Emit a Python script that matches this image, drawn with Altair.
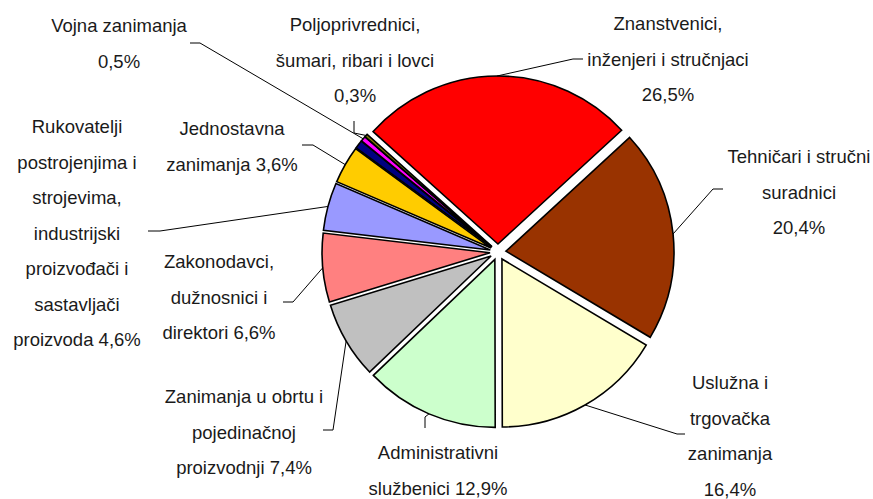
import math
import altair as alt
import pandas as pd

# Occupational structure, share of employed persons (%)
categories = [
    "Znanstvenici, inženjeri i stručnjaci",
    "Tehničari i stručni suradnici",
    "Uslužna i trgovačka zanimanja",
    "Administrativni službenici",
    "Zanimanja u obrtu i pojedinačnoj proizvodnji",
    "Zakonodavci, dužnosnici i direktori",
    "Rukovatelji postrojenjima i strojevima, industrijski proizvođači i sastavljači proizvoda",
    "Jednostavna zanimanja",
    "Nepoznato",
    "Vojna zanimanja",
    "Poljoprivrednici, šumari, ribari i lovci",
]
shares = [26.5, 20.4, 16.4, 12.9, 7.4, 6.6, 4.6, 3.6, 0.8, 0.5, 0.3]

# Label text, line by line; {v} is replaced by the formatted share
label_lines = [
    ["Znanstvenici,", "inženjeri i stručnjaci", "{v}"],
    ["Tehničari i stručni", "suradnici", "{v}"],
    ["Uslužna i", "trgovačka", "zanimanja", "{v}"],
    ["Administrativni", "službenici {v}"],
    ["Zanimanja u obrtu i", "pojedinačnoj", "proizvodnji {v}"],
    ["Zakonodavci,", "dužnosnici i", "direktori {v}"],
    ["Rukovatelji", "postrojenjima i", "strojevima,", "industrijski",
     "proizvođači i", "sastavljači", "proizvoda {v}"],
    ["Jednostavna", "zanimanja {v}"],
    [],
    ["Vojna zanimanja", "{v}"],
    ["Poljoprivrednici,", "šumari, ribari i lovci", "{v}"],
]

# Slice fill colours
colors = ["#FF0000", "#993300", "#FFFFCC", "#CCFFCC", "#C0C0C0", "#FF8080",
          "#9999FF", "#FFCC00", "#000080", "#FF00FF", "#808000"]

# Label placement: centre of the first label line, leader elbow, leader end (pixels)
label_pos = [(668, 24), (799, 157), (730, 383), (438, 453), (244, 397), (219, 262),
             (77, 127), (232, 129), (None, None), (119, 26), (355, 25)]
leader_elbow = [(573, 59), (713, 189), (677, 434), (425, 417), (333, 430), (293, 302),
                (160, 231), (313, 145), (None, None), (200, 43), (354, 133)]
leader_end = [(583, 59), (723, 189), (685, 434), (425, 428), (323, 430), (283, 302),
              (148, 231), (302, 145), (None, None), (190, 43), (354, 121)]

CX, CY = 498, 252          # pie centre
RADIUS = 168               # slice radius
EXPLODE = 8                # radial offset of every slice
START = math.radians(-48)  # angle where the first slice begins (clockwise from 12 o'clock)
FONT = "Liberation Sans Narrow, Arial Narrow, Liberation Sans, sans-serif"


def fmt(v):
    return f"{v:.1f}".replace(".", ",") + "%"


df = pd.DataFrame({
    "category": categories,
    "value": shares,
    "order": list(range(len(categories))),
    "color": colors,
    "label": ["\n".join(l.replace("{v}", fmt(v)) for l in lines)
              for lines, v in zip(label_lines, shares)],
    "lx": [p[0] for p in label_pos], "ly": [p[1] for p in label_pos],
    "bx": [p[0] for p in leader_elbow], "by": [p[1] for p in leader_elbow],
    "ex": [p[0] for p in leader_end], "ey": [p[1] for p in leader_end],
})

arcs = alt.Chart().mark_arc(radius=RADIUS, stroke="black", strokeWidth=1.6).encode(
    theta=alt.Theta("t0:Q", scale=None, stack=None),
    theta2="t1:Q",
    x=alt.X("px:Q", scale=None, axis=None),
    y=alt.Y("py:Q", scale=None, axis=None),
    color=alt.Color("color:N", scale=None, legend=None),
)

labelled = "datum.label != ''"

leader_a = alt.Chart().mark_rule(color="black", strokeWidth=1).encode(
    x=alt.X("ax:Q", scale=None, axis=None),
    y=alt.Y("ay:Q", scale=None, axis=None),
    x2="bx:Q",
    y2="by:Q",
).transform_filter(labelled)

leader_b = alt.Chart().mark_rule(color="black", strokeWidth=1).encode(
    x=alt.X("bx:Q", scale=None, axis=None),
    y=alt.Y("by:Q", scale=None, axis=None),
    x2="ex:Q",
    y2="ey:Q",
).transform_filter(labelled)

labels = alt.Chart().mark_text(
    align="center", baseline="middle", lineBreak="\n", lineHeight=35.5,
    font=FONT, fontSize=18.5, color="#1a1a1a",
).encode(
    x=alt.X("lx:Q", scale=None, axis=None),
    y=alt.Y("ly:Q", scale=None, axis=None),
    text="label:N",
).transform_filter(labelled)

chart = alt.layer(arcs, leader_a, leader_b, labels, data=df).transform_window(
    cum="sum(value)", sort=[alt.SortField("order")], frame=[None, 0]
).transform_joinaggregate(
    total="sum(value)"
).transform_calculate(
    t0=f"{START} + 2 * PI * (datum.cum - datum.value) / datum.total",
    t1=f"{START} + 2 * PI * datum.cum / datum.total",
).transform_calculate(
    mid="(datum.t0 + datum.t1) / 2",
).transform_calculate(
    px=f"{CX} + {EXPLODE} * sin(datum.mid)",
    py=f"{CY} - {EXPLODE} * cos(datum.mid)",
    ax=f"{CX} + {RADIUS + EXPLODE} * sin(datum.mid)",
    ay=f"{CY} - {RADIUS + EXPLODE} * cos(datum.mid)",
).properties(
    width=873, height=499, padding=0, autosize="none", background="white"
).configure_view(stroke=None)

chart.save("out.html", embed_options={"renderer": "svg", "actions": False})
